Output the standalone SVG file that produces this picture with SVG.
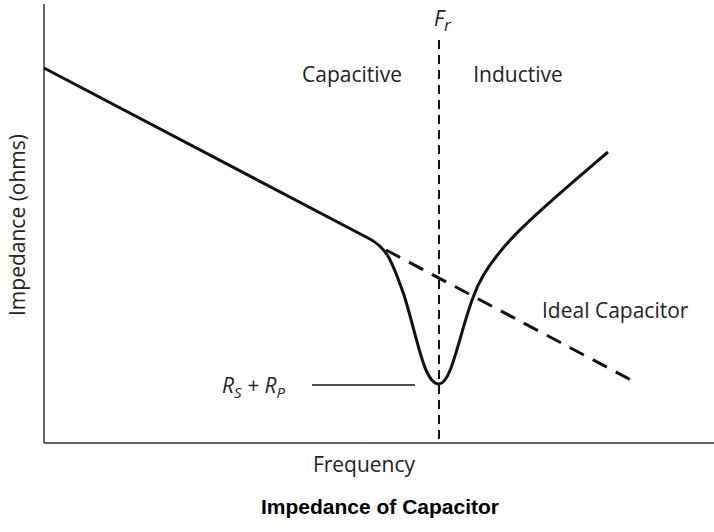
<svg xmlns="http://www.w3.org/2000/svg" width="714" height="532" viewBox="0 0 714 532">
<style>
text{font-family:"Open Sans","Liberation Sans",sans-serif;font-size:21px;fill:#222}
.it{font-style:italic}
</style>
<rect width="714" height="532" fill="#fff"/>
<g id="axes" stroke="#333" stroke-width="1.5" fill="none">
<line x1="44" y1="4" x2="44" y2="443"/>
<line x1="44" y1="443" x2="714" y2="443"/>
</g>
<g id="connectors" fill="none" stroke="#111">
<line x1="439" y1="40" x2="439" y2="443" stroke-width="2" stroke-dasharray="9,6"/>
<path d="M44,68 L368,238 C388,248 392,262 404,295 C418,340 424,384 439,384 C452,384 460,330 474,295 C490,250 540,210 608,152" stroke-width="3"/>
<line x1="386" y1="250" x2="633" y2="381" stroke-width="3" stroke-dasharray="16,10"/>
<line x1="312" y1="385" x2="415" y2="385" stroke-width="1.5"/>
</g>
<g id="labels">
<text x="434" y="26" class="it" font-size="23">F<tspan font-size="17" dy="5">r</tspan></text>
<text x="352" y="82" text-anchor="middle">Capacitive</text>
<text x="518" y="82" text-anchor="middle">Inductive</text>
<text x="542" y="318">Ideal Capacitor</text>
<text x="222" y="393" class="it" font-size="22">R<tspan font-size="15" dy="5">S</tspan><tspan dy="-5"> + R</tspan><tspan font-size="15" dy="5">P</tspan></text>
<text x="364" y="472" text-anchor="middle">Frequency</text>
<text x="0" y="0" transform="translate(25,225) rotate(-90)" text-anchor="middle">Impedance (ohms)</text>
<text x="380" y="514" text-anchor="middle" style="font-family:'Liberation Sans',Arial,sans-serif;font-weight:bold;font-size:21px;fill:#000">Impedance of Capacitor</text>
</g>
</svg>
